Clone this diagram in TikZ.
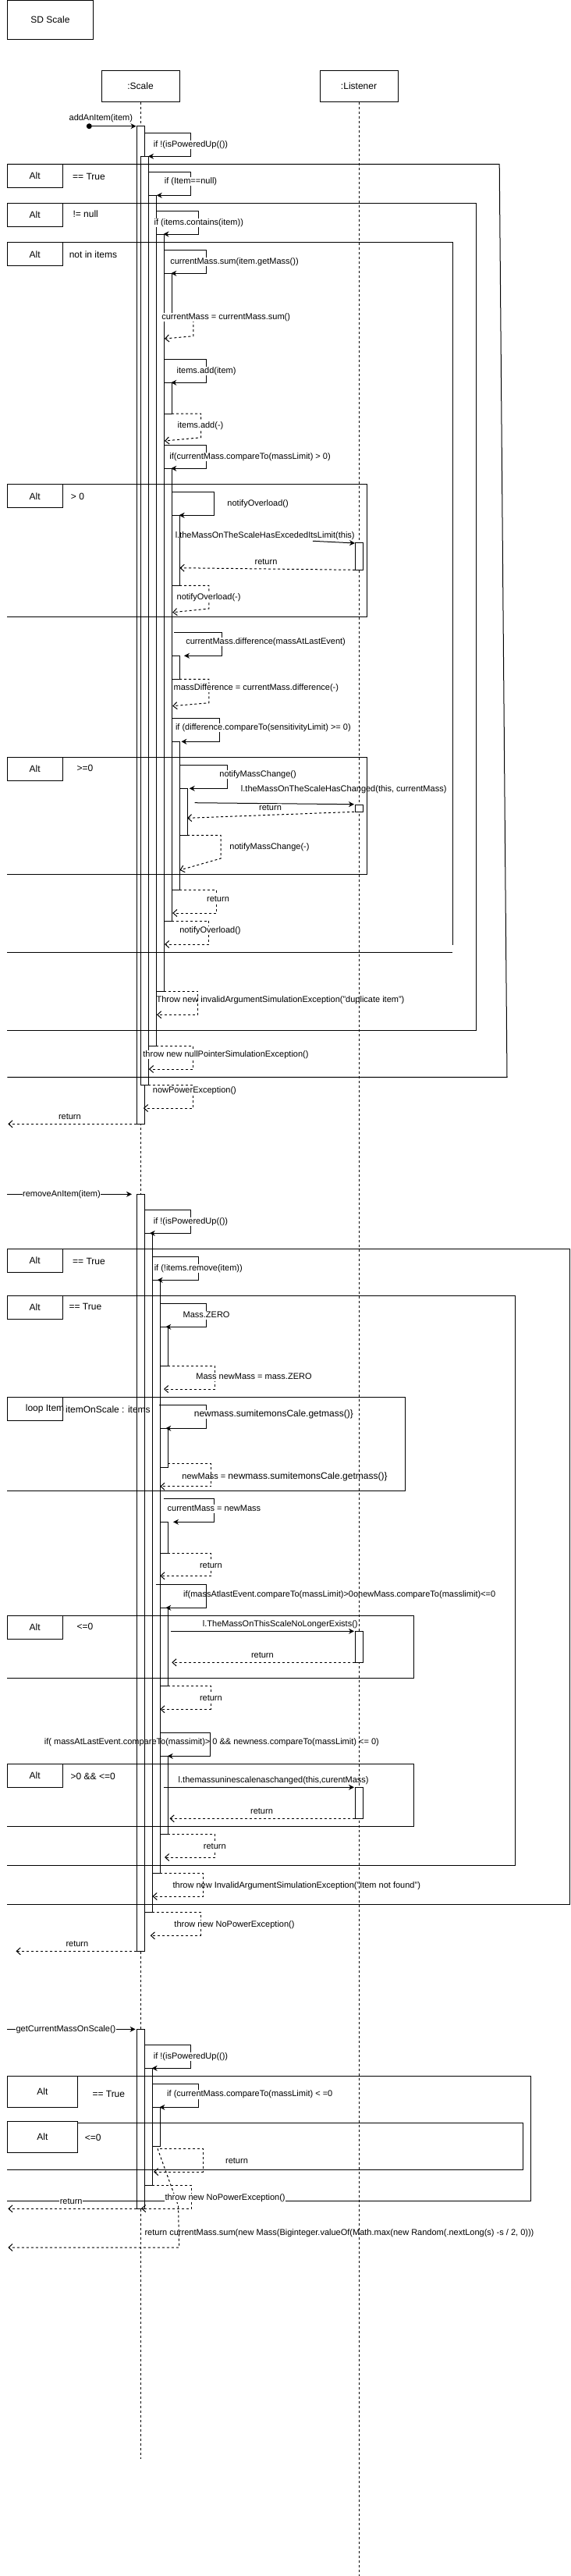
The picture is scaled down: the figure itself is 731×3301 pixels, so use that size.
\documentclass[tikz,border=0pt]{standalone}
\usepackage{fontspec}
\setmainfont{Liberation Sans}
\usetikzlibrary{arrows.meta}
\newcounter{nd}
\newcommand\actb[4]{\draw[act] (#1,#2) rectangle (#3,#4);}
\newcommand\scall[5]{\draw[msg] (#1,#2) -- (#3,#2) -- (#3,#4) -- (#5,#4);}
\newcommand\rcall[6]{\draw[ret] (#1,#2) -- (#3,#2) -- (#3,#4) -- (#5,#6);}
\newcommand\mlab[3]{\stepcounter{nd}\node[lbl] (m\arabic{nd}) at (#1,#2) {#3};}
\newcommand\mlabn[3]{\stepcounter{nd}\node[lbln] (m\arabic{nd}) at (#1,#2) {#3};}
\newcommand\altframe[4]{\draw[frm] (9.3,#1) -- (#2,#1) -- (#3,#4) -- (9.3,#4);}
\newcommand\altlab[4]{\stepcounter{nd}\node[abox] (a\arabic{nd}) at (44.65,#1+15) {Alt};\node[cond] (c\arabic{nd}) at (#2,#3) {#4};}
\begin{document}
\begin{tikzpicture}[x=1pt,y=-1pt,
  hbox/.style={draw,line width=1pt,font=\fontsize{12}{14}\selectfont,inner sep=0},
  abox/.style={draw,line width=1pt,minimum width=70.7pt,minimum height=30pt,inner sep=0,font=\fontsize{12}{14}\selectfont},
  cond/.style={inner sep=0,font=\fontsize{12}{14}\selectfont},
  act/.style={draw,fill=white,line width=1pt},
  life/.style={draw,line width=1pt,dash pattern=on 3pt off 3pt},
  frm/.style={draw,line width=1pt},
  msg/.style={draw,line width=1pt,-{Stealth[length=7pt,width=7pt]}},
  ret/.style={draw,line width=1pt,dash pattern=on 3pt off 3pt,-{Straight Barb[length=5pt,width=9pt]}},
  lbl/.style={fill=white,inner sep=0.5pt,text height=8pt,text depth=2.5pt,font=\fontsize{11}{13}\selectfont},
  lbln/.style={inner sep=0.5pt,text height=8pt,text depth=2.5pt,font=\fontsize{11}{13}\selectfont}]
\useasboundingbox (0,0) rectangle (731,3301);
\fill[white] (0,0) rectangle (731,3301);

% headers and lifelines
\node[hbox,minimum width=110pt,minimum height=50pt] (sd) at (64.5,25.5) {SD Scale};
\node[hbox,minimum width=100pt,minimum height=40pt] (scale) at (180,110.3) {:Scale};
\node[hbox,minimum width=100pt,minimum height=40pt] (lis) at (460,110.3) {:Listener};
\coordinate (scaleEnd) at (180,3150.7);
\coordinate (lisEnd) at (460,3300.5);
\draw[life] (scale.south) -- (scaleEnd);
\draw[life] (lis.south) -- (lisEnd);

% ===== addAnItem bars
\actb{175}{161.7}{185}{1440.3}
\actb{180}{200.3}{190}{1390}
\actb{190}{250.3}{200}{1340.3}
\actb{200}{300}{210}{1270.3}
\actb{210}{350.3}{220}{402}
\actb{210}{490.3}{220}{530}
\actb{210}{600.3}{220}{1180}
\actb{220}{660.3}{230}{750.3}
\actb{220}{840.3}{230}{870.3}
\actb{220}{950.3}{230}{1140.3}
\actb{230}{1010.3}{240}{1070.3}
\actb{455}{695.7}{465}{730.3}
\actb{455}{1031}{465}{1040.3}
% ===== removeAnItem bars
\actb{175}{1530.3}{185}{2500.3}
\actb{185}{1580.3}{195}{2450.3}
\actb{195}{1640.3}{205}{2400.3}
\actb{205}{1700.3}{215}{1750}
\actb{205}{1830.3}{215}{1880.3}
\actb{205}{1950.3}{215}{1990.3}
\actb{205}{2060.3}{215}{2160.3}
\actb{205}{2250.3}{215}{2350.3}
\actb{455}{2090.3}{465}{2130.3}
\actb{455}{2290.3}{465}{2330.3}
% ===== getCurrentMassOnScale bars
\actb{175}{2600.3}{185}{2830.3}
\actb{185}{2650.3}{195}{2800.3}
\actb{195}{2700.3}{205}{2750.3}

% ===== frames
\altframe{210.3}{640.2}{650}{1380.3}
\altframe{260.3}{610}{610}{1320.3}
\draw[frm] (9.3,310.7) -- (580,310.7) -- (580,1210.7);
\draw[frm] (9.3,1220.3) -- (580,1220.3);
\altframe{620.7}{470}{470}{790.3}
\altframe{970.3}{470}{470}{1120.3}
\altframe{1600.3}{730.5}{730.5}{2440.3}
\altframe{1660.3}{660.3}{660.3}{2390.3}
\altframe{1790.3}{519.4}{519.4}{1910.3}
\altframe{2070.3}{530}{530}{2150.3}
\altframe{2260.3}{530}{530}{2340.3}
\altframe{2660.3}{680.4}{680.4}{2820.3}
\draw[frm] (99.4,2720.3) -- (670,2720.3) -- (670,2780.3) -- (9.3,2780.3);

\altlab{210.3}{114}{226}{== True}
\altlab{260.3}{109.7}{274}{!= null}
\altlab{310.7}{119.5}{326}{not in items}
\altlab{620.7}{99.5}{636}{> 0}
\altlab{970.3}{109}{984.3}{>=0}
\altlab{1600.3}{114}{1616}{== True}
\altlab{1660.3}{109.4}{1674}{== True}
\altlab{2070.3}{109}{2084}{<=0}
\altlab{2260.3}{119.2}{2276}{>0 \&\& <=0}
\node[abox,minimum width=70.7pt] (loopbox) at (44.65,1805.3) {};
\node[cond,anchor=west] (looptxt) at (32.7,1805.7) {loop Item};
\node[cond,anchor=west] (loopcond) at (84,1805.7) {itemOnScale : items};
\node[abox,minimum width=90.1pt,minimum height=40pt] (h1box) at (54.35,2680.3) {Alt};
\node[cond] (h1cond) at (139.3,2683.7) {== True};
\node[abox,minimum width=90.1pt,minimum height=40pt] (h2box) at (54.35,2738.3) {Alt};
\node[cond] (h2cond) at (119.2,2739) {<=0};

% ===== addAnItem messages
\node[circle,fill,inner sep=0,minimum size=7pt] (start) at (114.3,161.7) {};
\coordinate (b1in) at (174.5,161.7);
\draw[msg] (start.center) -- (b1in);
\mlabn{129.3}{151.7}{addAnItem(item)}
\scall{185}{170.7}{244.5}{200.3}{190}
\mlab{244.5}{185.5}{if !(isPoweredUp(())}
\scall{190}{220.3}{244.5}{250.3}{200.7}
\mlab{244.5}{232.3}{if (Item==null)}
\scall{200}{270.3}{254.8}{300}{209.5}
\mlab{254.8}{285.7}{if (items.contains(item))}
\scall{210}{320.7}{264.6}{350.3}{219.3}
\mlab{300.5}{335.3}{currentMass.sum(item.getMass())}
\rcall{220}{402}{247.8}{430.7}{211}{434}
\mlab{289.7}{406.3}{currentMass = currentMass.sum()}
\scall{210}{460.7}{264.6}{490.3}{219.3}
\mlab{264.6}{475.3}{items.add(item)}
\rcall{220}{530}{257.6}{560.7}{211}{565}
\mlab{257}{545.3}{items.add(-)}
\scall{210}{570.3}{264.6}{600.3}{219.3}
\mlab{320.6}{585.3}{if(currentMass.compareTo(massLimit) > 0)}
\scall{220}{630.7}{274.9}{660.3}{229.6}
\mlab{330.6}{645.3}{notifyOverload()}
\draw[msg] (401,693.3) -- (455,696);
\mlabn{339.7}{686.3}{l.theMassOnTheScaleHasExcededItsLimit(this)}
\draw[ret] (455,730.3) -- (230.5,727.7);
\mlabn{341}{720.3}{return}
\rcall{230}{750.3}{267.9}{780}{221.2}{784.7}
\mlab{267.6}{765.3}{notifyOverload(-)}
\scall{223}{810.3}{284.7}{840.3}{236}
\mlab{340.6}{822.3}{currentMass.difference(massAtLastEvent)}
\rcall{230}{870.3}{267.9}{900.7}{221.2}{904.7}
\mlab{328.3}{881.3}{massDifference = currentMass.difference(-)}
\scall{220}{920.7}{281.9}{950.3}{232.4}
\mlab{337.4}{932.3}{if (difference.compareTo(sensitivityLimit) >= 0)}
\scall{230}{980.3}{291.6}{1010.3}{242.7}
\mlab{330.6}{992.7}{notifyMassChange()}
\draw[msg] (249.6,1028.7) -- (454,1030.7);
\mlabn{440.7}{1011.3}{l.theMassOnTheScaleHasChanged(this, currentMass)}
\draw[ret] (454,1040.3) -- (240,1048.3);
\mlab{346.5}{1035.3}{return}
\rcall{240}{1070.3}{283.2}{1100}{230.5}{1115}
\mlab{345.5}{1085.3}{notifyMassChange(-)}
\rcall{230}{1140.3}{277.6}{1170}{221.2}{1170}
\mlab{279.5}{1152.7}{return}
\rcall{220}{1180}{267.9}{1210}{211}{1210}
\mlab{269.5}{1192.3}{notifyOverload()}
\rcall{210}{1270.3}{253.9}{1300.3}{201}{1300.3}
\mlabn{359.5}{1281.3}{Throw new invalidArgumentSimulationException("duplicate item")}
\rcall{200}{1340.3}{247.8}{1370}{190.9}{1370}
\mlab{289.5}{1351.3}{throw new nullPointerSimulationException()}
\rcall{190}{1390}{247.8}{1420}{183.9}{1420}
\mlab{249.4}{1397.3}{nowPowerException()}
\coordinate (out1) at (10.3,1440.3);
\draw[ret] (175,1440.3) -- (out1);
\mlabn{89.4}{1431.3}{return}

% ===== removeAnItem messages
\coordinate (in2) at (9.3,1530.3);
\draw[msg] (in2) -- (169,1530.3);
\mlab{79}{1530.3}{removeAnItem(item)}
\scall{185}{1550.3}{244.5}{1580.3}{191.8}
\mlab{244.5}{1565.7}{if !(isPoweredUp(())}
\scall{195}{1610.3}{254.8}{1640.3}{201.6}
\mlab{254.3}{1625.3}{if (!items.remove(item))}
\scall{205}{1670.3}{264.6}{1700.3}{212.3}
\mlab{264.6}{1685.3}{Mass.ZERO}
\rcall{215}{1750}{275.3}{1780}{210}{1780}
\mlab{325.5}{1764.3}{Mass newMass = mass.ZERO}
\scall{204.4}{1800.3}{264.6}{1830.3}{212.3}
\mlab{350.9}{1812.3}{\fontsize{12}{14}\selectfont newmass.sumitemonsCale.getmass()\}}
\rcall{215}{1875.3}{270.7}{1904.7}{205.3}{1904.7}
\mlabn{365}{1892.3}{newMass = {\fontsize{12}{14}\selectfont newmass.sumitemonsCale.getmass()\}}}
\scall{209.5}{1920.3}{274.9}{1950.3}{222}
\mlab{274.4}{1933.3}{currentMass = newMass}
\rcall{215}{1990.3}{270.7}{2019.3}{205.3}{2019.3}
\mlab{270.4}{2006.3}{return}
\scall{199.7}{2030.3}{264.6}{2060.3}{212.3}
\mlabn{435.2}{2043.3}{if(massAtlastEvent.compareTo(massLimit)>0onewMass.compareTo(masslimit)<=0}
\draw[msg] (219.3,2090.3) -- (454,2090.3);
\mlab{359.3}{2081.3}{l.TheMassOnThisScaleNoLongerExists()}
\draw[ret] (455,2130.3) -- (220.3,2130.3);
\mlab{336.4}{2121.3}{return}
\rcall{215}{2160.3}{270.2}{2190.3}{205.3}{2190.3}
\mlab{270.4}{2176.3}{return}
\scall{205.3}{2220.3}{269.7}{2250.3}{214.7}
\mlabn{271.4}{2232.3}{if( massAtLastEvent.compareTo(massimit)> 0 \&\& newness.compareTo(massLimit) <= 0)}
\draw[msg] (209.5,2290.3) -- (454,2290.3);
\mlabn{350.7}{2282}{l.themassuninescalenaschanged(this,curentMass)}
\draw[ret] (455,2330.3) -- (217.5,2330.3);
\mlab{335.5}{2321.7}{return}
\rcall{215}{2350.3}{275.8}{2380}{211}{2380}
\mlab{275.3}{2366.3}{return}
\rcall{205}{2400.3}{260.4}{2430}{195.5}{2430}
\mlabn{380.3}{2416.3}{throw new InvalidArgumentSimulationException("Item not found")}
\rcall{195}{2450.3}{257.1}{2480.3}{192.7}{2480.3}
\mlab{300.5}{2466.3}{throw new NoPowerException()}
\coordinate (out2) at (20.5,2500.3);
\draw[ret] (175,2500.3) -- (out2);
\mlabn{98.9}{2491.7}{return}

% ===== getCurrentMassOnScale messages
\coordinate (in3) at (9.3,2600.3);
\draw[msg] (in3) -- (173.6,2600.3);
\mlab{84.5}{2600.3}{getCurrentMassOnScale()}
\scall{185}{2620.3}{244.5}{2650.3}{194.6}
\mlab{244.5}{2635.7}{if !(isPoweredUp(())}
\scall{195}{2670.3}{254.8}{2700.3}{204.4}
\mlab{320.3}{2684}{if (currentMass.compareTo(massLimit) < =0}
\rcall{205}{2753.7}{260.4}{2783}{197}{2783}
\mlab{303.5}{2769.3}{return}
\coordinate (out4) at (10.3,2880);
\draw[ret] (202,2753.3) -- (228.6,2826.7) -- (229.6,2880) -- (out4);
\rcall{195}{2800.3}{245.5}{2830}{181}{2830}
\mlab{288.6}{2816.3}{throw new NoPowerException()}
\coordinate (out3) at (10.3,2830.3);
\draw[ret] (175,2830.3) -- (out3);
\mlab{91.2}{2821.3}{return}
\mlabn{435}{2861.3}{return currentMass.sum(new Mass(Biginteger.valueOf(Math.max(new Random(.nextLong(s) -s / 2, 0)))}
\end{tikzpicture}
\end{document}
